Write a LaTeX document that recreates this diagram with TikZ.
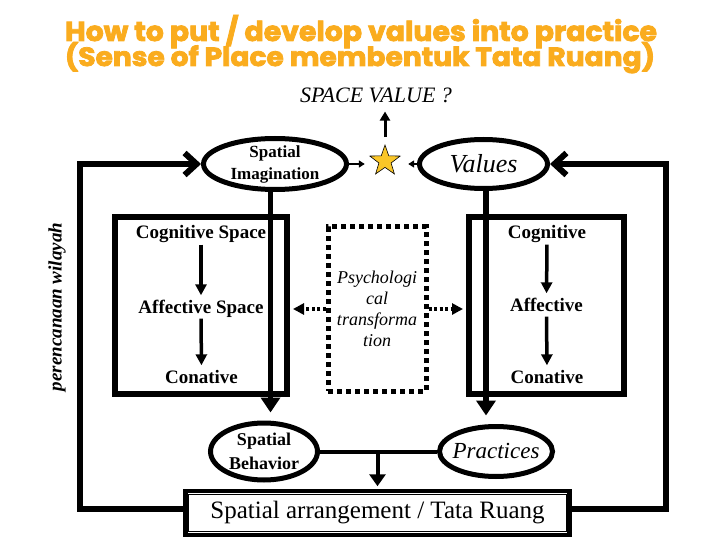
\documentclass[tikz,border=0pt]{standalone}
\usepackage{fontspec}
\usepackage{graphicx}
\setmainfont{Liberation Serif}
\newfontfamily\titlefont{Poppins}[BoldFeatures={FakeBold=3}]
\usetikzlibrary{arrows.meta,shapes.geometric,calc}
\definecolor{ttl}{RGB}{250,172,30}
\definecolor{stary}{RGB}{250,198,40}
\begin{document}
\begin{tikzpicture}[x=1pt,y=-1pt,
  loopline/.style={line width=6pt},
  boxstyle/.style={draw,line width=6pt,rectangle,inner sep=0pt},
  ell/.style={draw,ellipse,line width=5pt,inner xsep=0pt,inner ysep=-4pt,align=center},
  inner/.style={font=\fontsize{19}{23}\selectfont\bfseries,inner sep=0pt,text height=13pt,text depth=4pt,anchor=base},
  inarrow/.style={line width=3.5pt,-{Triangle[length=11pt,width=11pt]},shorten <=1.5pt,shorten >=4.5pt},
  bigarrow/.style={line width=5.5pt,-{Triangle[length=15pt,width=19pt]}},
  dotarrow/.style={line width=4pt,dash pattern=on 3pt off 2.5pt,-{Triangle[length=11pt,width=11pt]}},
  smallarrow/.style={line width=2pt,-{Triangle[length=6pt,width=7pt]}}]
\useasboundingbox (0,0) rectangle (720,540);

% title
\node[anchor=base,text=ttl,inner sep=0pt] (t1) at (361,41)
  {\resizebox{592pt}{26pt}{\titlefont\bfseries How to put / develop values into practice}};
\node[anchor=base,text=ttl,inner sep=0pt] (t2) at (360,66)
  {\resizebox{590pt}{24pt}{\titlefont\bfseries (Sense of Place membentuk Tata Ruang)}};

\node[anchor=base,inner sep=0pt,font=\fontsize{22}{26}\selectfont\itshape] (sv) at (376,103) {SPACE VALUE ?};

% ellipses and star
\node[ell,minimum width=143pt,minimum height=51pt,font=\fontsize{17}{22}\selectfont\bfseries] (si) at (275,164) {Spatial\\Imagination};
\node[ell,minimum width=128pt,minimum height=49pt,font=\fontsize{26}{30}\selectfont\itshape] (val) at (483.5,164) {Values};
\node[star,star points=5,star point ratio=2.5,minimum size=32pt,inner sep=0pt,fill=stary,draw=black,line width=0.6pt] (st) at (385,161) {};
\node[ell,minimum width=107pt,minimum height=57pt,font=\fontsize{18}{24}\selectfont\bfseries] (sb) at (264,451.5) {Spatial\\Behavior};
\node[ell,inner xsep=-5pt,minimum width=113pt,minimum height=50pt,font=\fontsize{23}{27}\selectfont\itshape] (pr) at (496,451.5) {Practices};

% boxes
\node[boxstyle,minimum width=172pt,minimum height=177pt] (lbox) at (201,305.5) {};
\node[boxstyle,minimum width=155pt,minimum height=177pt] (rbox) at (546.5,305.5) {};
\node[draw,line width=5pt,dash pattern=on 5pt off 4pt,minimum width=98pt,minimum height=164pt,inner sep=0pt,align=center,font=\fontsize{18}{21}\selectfont\itshape] (ps) at (377,309) {Psychologi\\cal\\transforma\\tion};

\node[inner] (cs) at (201,239) {Cognitive Space};
\node[inner] (as) at (201,313) {Affective Space};
\node[inner] (cn) at (201.5,383) {Conative};
\node[inner] (rc) at (547,239) {Cognitive};
\node[inner] (ra) at (546.5,311) {Affective};
\node[inner] (rn) at (547,383) {Conative};

\node[rotate=90,font=\fontsize{19}{23}\selectfont\bfseries\itshape,inner sep=0pt] (pw) at (57,307) {perencanaan wilayah};

% spatial arrangement box
\node[draw,line width=4.5pt,minimum width=384pt,minimum height=44pt,inner sep=0pt,font=\fontsize{25}{30}\selectfont] (sa) at (377.5,513) {Spatial arrangement / Tata Ruang};
\draw[line width=1.2pt] ([shift={(5.5,5.5)}]sa.north west) rectangle ([shift={(-5.5,-5.5)}]sa.south east);

% connectors
\coordinate (lb) at (80,509);
\coordinate (rb) at (666,509);
\coordinate (lv) at (270.5,0);
\coordinate (rv) at (486,0);
\draw[loopline,-{Straight Barb[length=12pt,width=22pt]}] (sa.west |- lb) -- (lb) |- (si.west);
\draw[loopline,-{Straight Barb[length=12pt,width=22pt]}] (sa.east |- rb) -- (rb) |- (val.east);

\draw[smallarrow,shorten >=11pt] (si.east) -- (si.east -| st.west);
\draw[smallarrow,shorten >=14pt] (val.west) -- (val.west -| st.east);
\draw[line width=3pt,-{Triangle[length=9pt,width=10pt]},shorten <=7pt,shorten >=8pt] (st.north) -- (st.north |- sv.south);

\draw[bigarrow,shorten >=8pt] (si.south -| lv) -- (sb.north -| lv);
\draw[bigarrow,shorten >=8.5pt] (val.south -| rv) -- (pr.north -| rv);

\draw[inarrow] (cs.south) -- (as.north);
\draw[inarrow] (as.south) -- (cn.north);
\draw[inarrow] (rc.south) -- (ra.north);
\draw[inarrow] (ra.south) -- (rn.north);

\draw[dotarrow,shorten >=3pt] (ps.west) -- (ps.west -| lbox.east);
\draw[dotarrow,shorten >=3pt] (ps.east) -- (ps.east -| rbox.west);

\draw[line width=4pt] (sb.east) -- (pr.west);
\draw[line width=4pt,-{Triangle[length=12pt,width=16pt]},shorten >=2.5pt] (sb.east -| sa.north) -- (sa.north);
\end{tikzpicture}
\end{document}
